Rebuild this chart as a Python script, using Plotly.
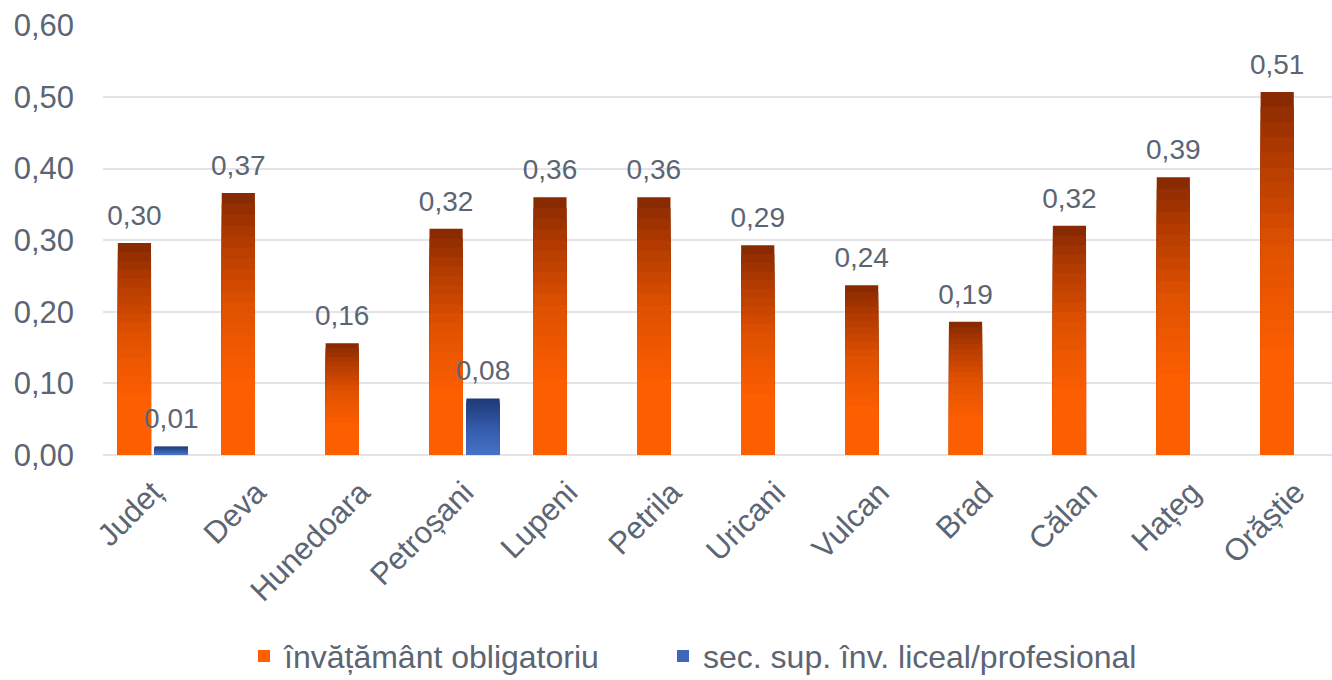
import plotly.graph_objects as go

categorii = ["Județ", "Deva", "Hunedoara", "Petroșani", "Lupeni", "Petrila",
             "Uricani", "Vulcan", "Brad", "Călan", "Hațeg", "Orăștie"]
obligatoriu = [0.296, 0.366, 0.156, 0.316, 0.360, 0.360,
               0.293, 0.237, 0.186, 0.320, 0.388, 0.507]
liceal = [0.012, None, None, 0.079, None, None,
          None, None, None, None, None, None]

y_ticks = [0, 0.1, 0.2, 0.3, 0.4, 0.5, 0.6]

txt = "#5b6573"
font = "Liberation Sans, Arial, sans-serif"
gap = 0.29
PASI = 24  # trepte pentru degradeul vertical al barelor


def amesteca(stops, f):
    # stops: lista (fractie, (r, g, b)) crescatoare dupa fractie
    for (f0, c0), (f1, c1) in zip(stops, stops[1:]):
        if f <= f1:
            t = 0 if f1 == f0 else (f - f0) / (f1 - f0)
            t = min(max(t, 0), 1)
            return "rgb(%d,%d,%d)" % tuple(round(a + (b - a) * t) for a, b in zip(c0, c1))
    return "rgb(%d,%d,%d)" % stops[-1][1]


grad_portocaliu = [(0.0, (253, 95, 0)), (0.3, (252, 94, 0)), (0.6, (222, 80, 0)),
                   (0.85, (176, 58, 0)), (1.0, (138, 42, 0))]
grad_albastru = [(0.0, (72, 116, 200)), (0.5, (52, 90, 170)), (1.0, (30, 58, 120))]

serii = [("învățământ obligatoriu", obligatoriu, grad_portocaliu, "legend"),
         ("sec. sup. înv. liceal/profesional", liceal, grad_albastru, "legend2")]

fig = go.Figure()
for nume, vals, grad, leg in serii:
    for k in range(PASI):
        f = 1 - k / PASI
        fig.add_trace(go.Bar(
            name=nume, x=categorii,
            y=[v * f if v is not None else None for v in vals],
            offsetgroup=nume, legend=leg, showlegend=(k == PASI - 6),
            marker=dict(color=amesteca(grad, f), line=dict(width=0)),
            hoverinfo="x+y" if k == 0 else "skip",
        ))
# etichete de valoare, aliniate cu barele grupate
for nume, vals, grad, leg in serii:
    fig.add_trace(go.Scatter(x=categorii, y=vals, mode="markers+text",
                             offsetgroup=nume,
                             texttemplate="%{y:.2f}", textposition="top center",
                             textfont=dict(size=28, color=txt, family=font),
                             marker=dict(size=16, opacity=0), showlegend=False,
                             hoverinfo="skip", cliponaxis=False))

leg_style = dict(orientation="h", xanchor="left", xref="container",
                 y=0.035, yanchor="middle", yref="container",
                 font=dict(size=32, family=font, color=txt), itemwidth=30)

fig.update_layout(
    width=1332, height=680,
    margin=dict(l=103, r=0, t=25, b=225, autoexpand=False),
    paper_bgcolor="white", plot_bgcolor="white",
    separators=",.",
    barmode="group", bargap=gap, bargroupgap=0.1,
    scattermode="group", scattergap=gap,
    font=dict(family=font, color=txt),
    showlegend=True,
    legend=dict(x=244 / 1332, **leg_style),
    legend2=dict(x=663 / 1332, **leg_style),
)
fig.update_xaxes(range=[-0.48, 11.35], tickangle=-45, tickfont=dict(size=31, color=txt),
                 showline=False, ticks="", showgrid=False, automargin=False,
                 ticklabelstandoff=12)
fig.update_yaxes(range=[0, 0.6005], tickvals=y_ticks, tickformat=".2f",
                 tickfont=dict(size=31, color=txt), showgrid=True, gridcolor="#e3e3e8",
                 gridwidth=1.5, zeroline=True, zerolinecolor="#e3e3e8", zerolinewidth=1.5,
                 ticklabelstandoff=28, automargin=False)

fig.write_html("out.html", config={"displayModeBar": False},
               post_script="document.body.style.margin='0';")
